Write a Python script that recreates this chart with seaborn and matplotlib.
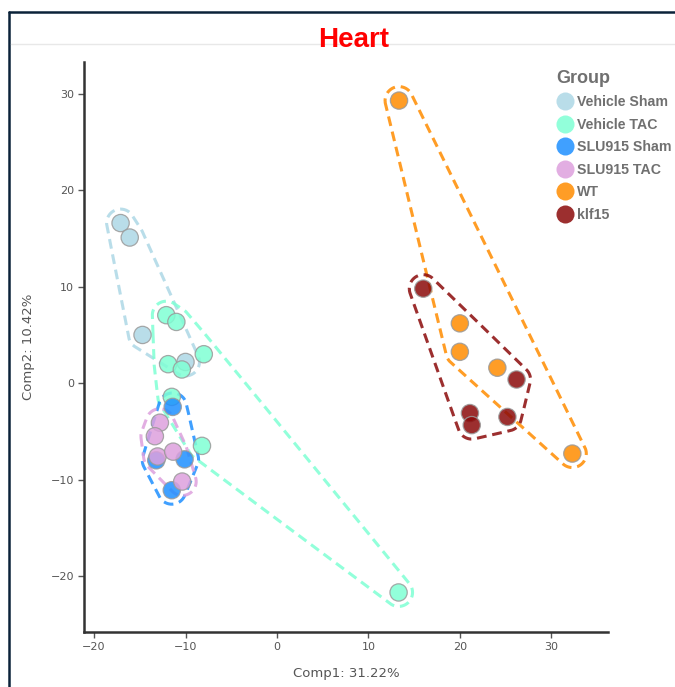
import numpy as np
import pandas as pd
import matplotlib
matplotlib.use("Agg")
import matplotlib.pyplot as plt
from matplotlib.lines import Line2D
import seaborn as sns

groups = ["Vehicle Sham", "Vehicle TAC", "SLU915 Sham", "SLU915 TAC", "WT", "klf15"]
colors = ["#ADD8E6", "#7FFFD4", "#1E8FFF", "#DDA0DD", "#FF8C00", "#8B0A0A"]

vsham_x = [-17.1, -16.1, -14.7, -10.0]
vsham_y = [16.6, 15.1, 5.0, 2.2]
vtac_x = [-12.1, -11.0, -8.0, -11.9, -10.4, -11.5, -8.2, 13.3]
vtac_y = [7.05, 6.35, 3.0, 1.97, 1.42, -1.42, -6.5, -21.7]
ssham_x = [-11.4, -13.2, -10.1, -11.5]
ssham_y = [-2.46, -8.0, -7.9, -11.1]
stac_x = [-12.8, -13.35, -13.05, -11.35, -10.36]
stac_y = [-4.1, -5.5, -7.6, -7.1, -10.2]
wt_x = [13.35, 20.0, 20.0, 24.1, 32.3]
wt_y = [29.3, 6.2, 3.25, 1.6, -7.3]
klf_x = [16.0, 26.2, 21.1, 21.3, 25.2]
klf_y = [9.8, 0.38, -3.1, -4.35, -3.5]

xs = [vsham_x, vtac_x, ssham_x, stac_x, wt_x, klf_x]
ys = [vsham_y, vtac_y, ssham_y, stac_y, wt_y, klf_y]

df = pd.DataFrame({
    "Comp1": np.concatenate(xs),
    "Comp2": np.concatenate(ys),
    "Group": np.concatenate([[g] * len(x) for g, x in zip(groups, xs)]),
})

sns.set_style("white")
plt.rcParams["font.family"] = ["DejaVu Sans"]

W, H = 675, 687
fig = plt.figure(figsize=(W / 100, H / 100), dpi=100)
ax = fig.add_axes([84 / W, 1 - 632 / H, (608 - 84) / W, (632 - 62) / H])
ax.set_xlim(-21.1, 36.2)
ax.set_ylim(-25.8, 33.3)

palette = dict(zip(groups, colors))


def convex_hull(pts):
    pts = sorted(map(tuple, pts))
    def cross(o, a, b):
        return (a[0] - o[0]) * (b[1] - o[1]) - (a[1] - o[1]) * (b[0] - o[0])
    lower, upper = [], []
    for p in pts:
        while len(lower) >= 2 and cross(lower[-2], lower[-1], p) <= 0:
            lower.pop()
        lower.append(p)
    for p in reversed(pts):
        while len(upper) >= 2 and cross(upper[-2], upper[-1], p) <= 0:
            upper.pop()
        upper.append(p)
    return np.array(lower[:-1] + upper[:-1])


def chaikin(poly, n=3):
    for _ in range(n):
        q = 0.75 * poly + 0.25 * np.roll(poly, -1, axis=0)
        rr = 0.25 * poly + 0.75 * np.roll(poly, -1, axis=0)
        poly = np.empty((2 * len(poly), 2))
        poly[0::2] = q
        poly[1::2] = rr
    return poly


ang = np.linspace(0, 2 * np.pi, 48, endpoint=False)
circ = np.column_stack([np.cos(ang), np.sin(ang)])
r = 14.0
for g, x, y in zip(groups, xs, ys):
    disp = ax.transData.transform(np.column_stack([x, y]))
    cloud = np.concatenate([p + r * circ for p in disp])
    hull = chaikin(convex_hull(cloud), 2)
    hull = np.vstack([hull, hull[:1]])
    hd = ax.transData.inverted().transform(hull)
    ax.plot(hd[:, 0], hd[:, 1], color=palette[g], alpha=0.85, lw=2.2,
            linestyle=(0, (3.2, 1.9)), zorder=2)

sns.scatterplot(data=df, x="Comp1", y="Comp2", hue="Group", hue_order=groups,
                palette=palette, s=155, alpha=0.85, edgecolor="#9a9a9a",
                linewidth=0.9, ax=ax, zorder=3, legend=False)

for side in ["top", "right"]:
    ax.spines[side].set_visible(False)
for side in ["left", "bottom"]:
    ax.spines[side].set_color("#333333")
    ax.spines[side].set_linewidth(1.8)
ax.set_xticks([-20, -10, 0, 10, 20, 30])
ax.set_yticks([-20, -10, 0, 10, 20, 30])
ax.tick_params(axis="both", which="both", length=4, width=1, color="#555555",
               labelsize=8, labelcolor="#555555", direction="out", pad=3,
               bottom=True, left=True)
ax.set_xlabel("Comp1: 31.22%", fontsize=9.5, color="#555555", labelpad=11)
ax.set_ylabel("Comp2: 10.42%", fontsize=9.5, color="#555555", labelpad=11)

# legend
handles = [Line2D([0], [0], marker="o", linestyle="none", markersize=13,
                  markerfacecolor=c, markeredgecolor="none", alpha=0.85)
           for c in colors]
leg = fig.legend(handles, groups, title="Group", loc="upper left",
                 bbox_to_anchor=(551 / W, 1 - 64 / H), frameon=False,
                 prop={"family": "Liberation Sans", "weight": "bold", "size": 10.2},
                 handletextpad=0.25, labelspacing=0.6, borderaxespad=0,
                 handlelength=1.2, alignment="left")
leg.get_title().set_fontproperties({"family": "Liberation Sans", "weight": "bold", "size": 13})
leg.get_title().set_color("#707070")
for t in leg.get_texts():
    t.set_color("#707070")

# title and frame
fig.text(354 / W, 1 - 40 / H, "Heart", color="#ff0000", fontsize=20, weight="bold",
         family="Liberation Sans", ha="center", va="center")
fig.add_artist(Line2D([9 / W, 9 / W], [0, 1 - 12 / H], color="#0b2239", lw=1.8,
                      transform=fig.transFigure))
fig.add_artist(Line2D([9 / W, 1], [1 - 12 / H, 1 - 12 / H], color="#0b2239", lw=1.8,
                      transform=fig.transFigure))
fig.add_artist(Line2D([11 / W, 1], [1 - 44 / H, 1 - 44 / H], color="#e8e8e8", lw=1.0,
                      transform=fig.transFigure))

fig.savefig("out.png", dpi=100)
